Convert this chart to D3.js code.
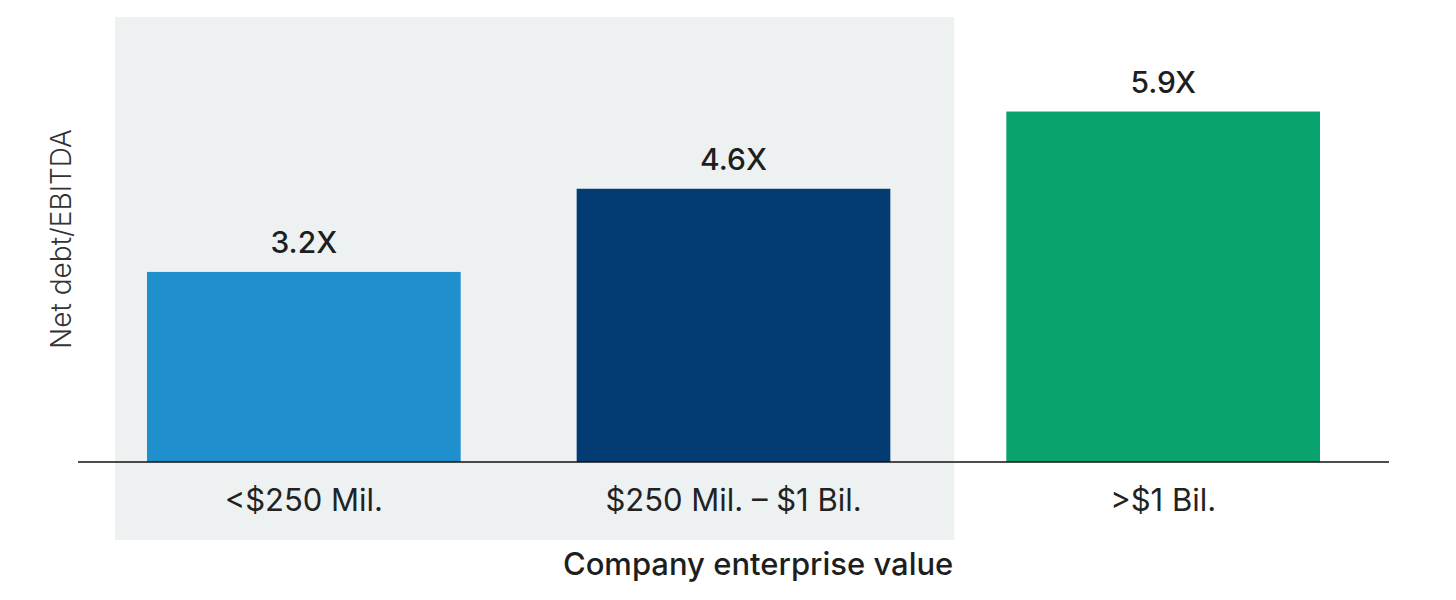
<!DOCTYPE html>
<html>
<head>
<meta charset="utf-8">
<script src="https://cdn.jsdelivr.net/npm/d3@7"></script>
<style>
  html, body { margin: 0; padding: 0; background: #fff; }
  svg { display: block; font-family: Inter, "Liberation Sans", sans-serif; }
</style>
</head>
<body>
<div id="chart"></div>
<script>
// data
const categories = ["<$250 Mil.", "$250 Mil. \u2013 $1 Bil.", ">$1 Bil."];
const values = [3.2, 4.6, 5.9];
const barColors = ["#1f8fce", "#033b73", "#08a26c"];
const shadedCategories = ["<$250 Mil.", "$250 Mil. \u2013 $1 Bil."];

const width = 1456, height = 600;
const baseY = 462;

const svg = d3.select("#chart")
  .append("svg")
    .attr("width", width)
    .attr("height", height);

// scales
const x = d3.scaleBand()
  .domain(categories)
  .range([89, 1378])
  .paddingInner(0.27)
  .paddingOuter(0.135);

const y = d3.scaleLinear()
  .domain([0, 7])
  .range([baseY, baseY - 7 * 59.4]);

// shaded panel behind the first two groups
const s0 = x(shadedCategories[0]);
const s1 = x(shadedCategories[shadedCategories.length - 1]) + x.bandwidth();
svg.append("rect")
  .attr("x", s0 - 32)
  .attr("y", 17)
  .attr("width", (s1 + 64) - (s0 - 32))
  .attr("height", 540 - 17)
  .attr("fill", "#edf1f2");

// bars
svg.selectAll(".bar")
  .data(values)
  .enter()
  .append("rect")
    .attr("class", "bar")
    .attr("x", (d, i) => x(categories[i]))
    .attr("y", d => y(d))
    .attr("width", x.bandwidth())
    .attr("height", d => y(0) - y(d))
    .attr("fill", (d, i) => barColors[i]);

// value labels
svg.selectAll(".val")
  .data(values)
  .enter()
  .append("text")
    .attr("class", "val")
    .attr("x", (d, i) => x(categories[i]) + x.bandwidth() / 2)
    .attr("y", d => y(d) - 19)
    .attr("text-anchor", "middle")
    .attr("fill", "#1e1e1e")
    .style("font-size", "30px")
    .style("font-weight", 500)
    .text(d => d.toFixed(1) + "X");

// baseline axis
const xAxis = svg.append("g")
  .attr("transform", "translate(0," + baseY + ")")
  .call(d3.axisBottom(x).tickSize(0).tickPadding(27));
xAxis.select(".domain")
  .attr("d", "M78,0H1389")
  .attr("stroke", "#111")
  .attr("stroke-width", 1.6);
xAxis.selectAll("text")
  .attr("fill", "#222")
  .style("font-family", "Inter, 'Liberation Sans', sans-serif")
  .style("font-size", "31px")
  .style("font-weight", 400);

// axis titles
svg.append("text")
  .attr("x", s1 + 63)
  .attr("y", 575)
  .attr("text-anchor", "end")
  .attr("fill", "#1e1e1e")
  .style("font-size", "31px")
  .style("font-weight", 500)
  .text("Company enterprise value");

svg.append("text")
  .attr("transform", "translate(71,239) rotate(-90)")
  .attr("text-anchor", "middle")
  .attr("fill", "#333")
  .style("font-size", "28px")
  .style("font-weight", 300)
  .text("Net debt/EBITDA");
</script>
</body>
</html>
